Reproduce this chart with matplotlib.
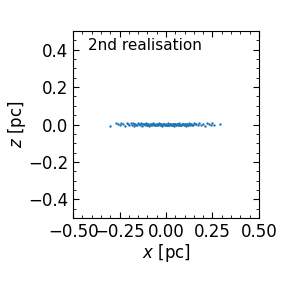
import matplotlib
matplotlib.use("Agg")
import matplotlib.pyplot as plt
from matplotlib.ticker import AutoMinorLocator

# particle positions (pc)
x_pos = [-0.30, -0.27, -0.26, -0.25, -0.24, -0.23, -0.22, -0.21, -0.205, -0.20,
         -0.19, -0.185, -0.18, -0.175, -0.17, -0.165, -0.16, -0.155, -0.15, -0.145,
         -0.14, -0.135, -0.13, -0.125, -0.12, -0.115, -0.11, -0.105, -0.10, -0.095,
         -0.09, -0.085, -0.08, -0.075, -0.07, -0.065, -0.06, -0.055, -0.05, -0.045,
         -0.04, -0.035, -0.03, -0.025, -0.02, -0.015, -0.01, -0.005, 0.00, 0.005,
         0.01, 0.015, 0.02, 0.025, 0.03, 0.035, 0.04, 0.045, 0.05, 0.055,
         0.06, 0.065, 0.07, 0.075, 0.08, 0.085, 0.09, 0.095, 0.10, 0.105,
         0.11, 0.115, 0.12, 0.125, 0.13, 0.135, 0.14, 0.15, 0.16, 0.17,
         0.18, 0.19, 0.20, 0.21, 0.22, 0.23, 0.24, 0.25, 0.26, 0.29,
         -0.11, -0.09, -0.07, -0.05, -0.03, -0.01, 0.01, 0.03, 0.05, 0.07,
         0.09, 0.11, -0.10, -0.08, -0.06, -0.04, -0.02, 0.00, 0.02, 0.04,
         0.06, 0.08, 0.10, 0.12, -0.13, -0.015, 0.015, 0.045, -0.045, 0.075,
         -0.095, -0.075, -0.055, -0.035, -0.005, 0.025, 0.055, 0.085, 0.115, 0.135,
         -0.115, -0.065, -0.025, 0.005, 0.035, 0.065, 0.095, 0.125, 0.145, 0.155]
z_pos = [-0.010, 0.008, 0.004, -0.003, 0.009, 0.002, -0.006, 0.007, 0.001, -0.004,
         0.006, -0.002, 0.008, 0.003, -0.007, 0.005, 0.000, -0.005, 0.007, 0.002,
         -0.003, 0.006, -0.006, 0.004, 0.001, -0.004, 0.007, 0.002, -0.002, 0.005,
         -0.006, 0.003, 0.000, -0.003, 0.006, 0.001, -0.005, 0.004, 0.002, -0.002,
         0.006, -0.004, 0.003, 0.000, -0.006, 0.005, 0.001, -0.003, 0.004, -0.001,
         0.006, -0.005, 0.002, 0.000, -0.003, 0.005, 0.001, -0.006, 0.004, -0.002,
         0.003, -0.004, 0.006, 0.000, -0.005, 0.002, 0.005, -0.002, 0.003, -0.006,
         0.001, 0.004, -0.003, 0.006, -0.001, 0.003, -0.005, 0.007, 0.002, -0.004,
         0.006, -0.002, 0.004, -0.006, 0.008, 0.001, -0.005, 0.006, -0.002, 0.003,
         0.002, -0.001, 0.003, -0.002, 0.001, 0.002, -0.002, 0.000, 0.003, -0.001,
         0.002, -0.003, -0.001, 0.001, -0.002, 0.003, 0.000, -0.003, 0.002, -0.001,
         0.001, -0.002, 0.002, 0.000, 0.004, 0.002, -0.001, 0.001, 0.003, -0.003,
         -0.004, 0.004, -0.003, 0.004, -0.004, 0.003, -0.004, 0.004, -0.003, 0.002,
         0.003, -0.003, 0.004, -0.004, 0.002, 0.004, -0.004, 0.003, -0.002, 0.004]

x_ticks = [-0.50, -0.25, 0.00, 0.25, 0.50]
y_ticks = [-0.4, -0.2, 0.0, 0.2, 0.4]
label_text = "2nd realisation"

fig = plt.figure(figsize=(2.89, 2.82), dpi=100)
ax = fig.add_axes([0.253, 0.227, 0.643, 0.663])

ax.scatter(x_pos, z_pos, s=3, color="#1f77b4", linewidths=0)

ax.set_xlim(-0.5, 0.5)
ax.set_ylim(-0.5, 0.5)
ax.set_xticks(x_ticks)
ax.set_yticks(y_ticks)
ax.xaxis.set_minor_locator(AutoMinorLocator(5))
ax.yaxis.set_minor_locator(AutoMinorLocator(4))
ax.tick_params(which="both", direction="in", top=True, right=True, labelsize=12)
ax.tick_params(which="major", length=4)
ax.tick_params(which="minor", length=2)

ax.set_xlabel(r"$x$ [pc]", fontsize=12, labelpad=1)
ax.set_ylabel(r"$z$ [pc]", fontsize=12, labelpad=0)
ax.text(0.08, 0.92, label_text, transform=ax.transAxes, fontsize=11,
        ha="left", va="center")

fig.savefig("out.png", dpi=100)
